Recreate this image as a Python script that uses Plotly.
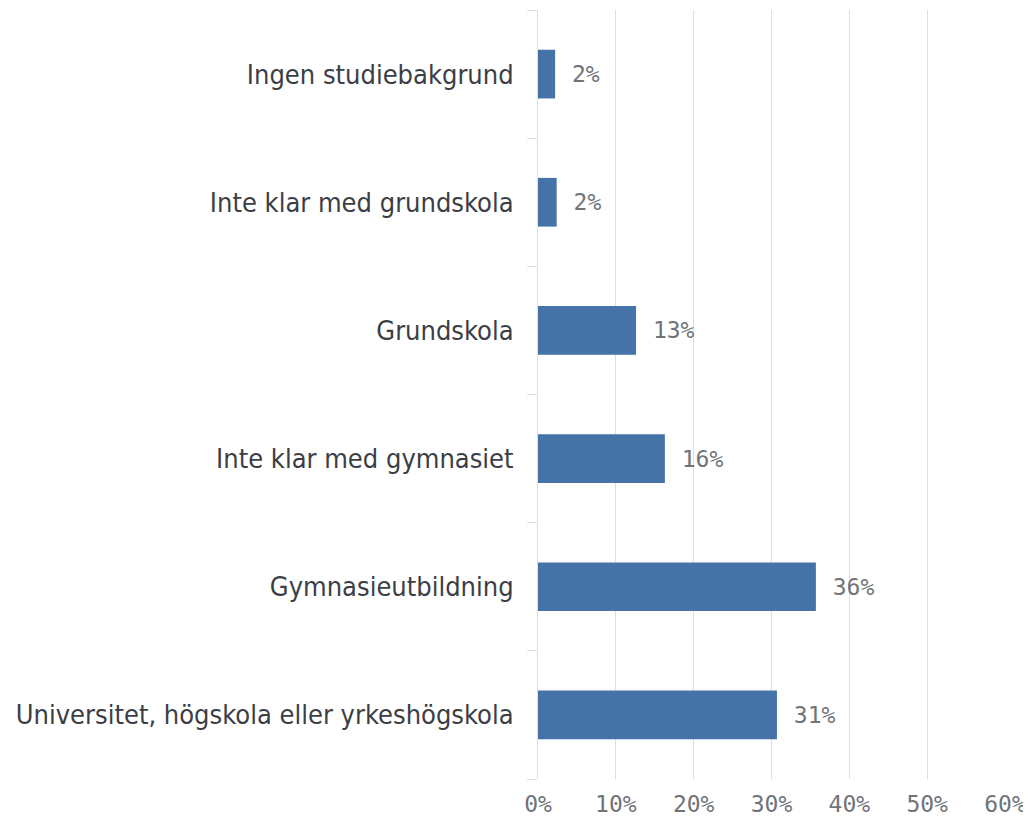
import plotly.graph_objects as go

categories = [
    "Ingen studiebakgrund",
    "Inte klar med grundskola",
    "Grundskola",
    "Inte klar med gymnasiet",
    "Gymnasieutbildning",
    "Universitet, högskola eller yrkeshögskola",
]
values = [2.2, 2.4, 12.6, 16.3, 35.7, 30.7]
tick_vals = [0, 10, 20, 30, 40, 50, 60]
tick_text = ["0%", "10%", "20%", "30%", "40%", "50%", "60%"]

fig = go.Figure(
    go.Bar(
        y=categories,
        x=values,
        orientation="h",
        marker=dict(color="#4572a7", line=dict(width=0)),
        width=0.38,
        texttemplate=" %{x:.0f}%",
        textposition="outside",
        cliponaxis=False,
        textfont=dict(family="DejaVu Sans Mono", size=23, color="#707479"),
        hoverinfo="skip",
    )
)

# page body has an 8px default margin, so the figure is sized to fit the window
fig.update_layout(
    width=1023,
    height=810,
    margin=dict(l=530, r=26, t=2, b=39),
    paper_bgcolor="white",
    plot_bgcolor="white",
    showlegend=False,
    xaxis=dict(
        range=[0, 60],
        tickvals=tick_vals,
        ticktext=tick_text,
        showgrid=True,
        gridcolor="#dedede",
        gridwidth=1,
        zeroline=False,
        showline=False,
        ticks="",
        ticklabelstandoff=9,
        automargin=False,
        tickfont=dict(family="DejaVu Sans Mono", size=23, color="#6f737a"),
        fixedrange=True,
    ),
    yaxis=dict(
        categoryorder="array",
        categoryarray=list(reversed(categories)),
        autorange=False,
        range=[-0.5, 5.5],
        showline=True,
        linecolor="#dedede",
        linewidth=1,
        ticks="outside",
        tickson="boundaries",
        ticklen=10,
        tickcolor="#dedede",
        ticklabelstandoff=18,
        automargin=False,
        showgrid=False,
        tickfont=dict(family="DejaVu Sans Condensed", size=27, color="#3b3e45"),
        fixedrange=True,
    ),
)

fig.write_html("out.html")
